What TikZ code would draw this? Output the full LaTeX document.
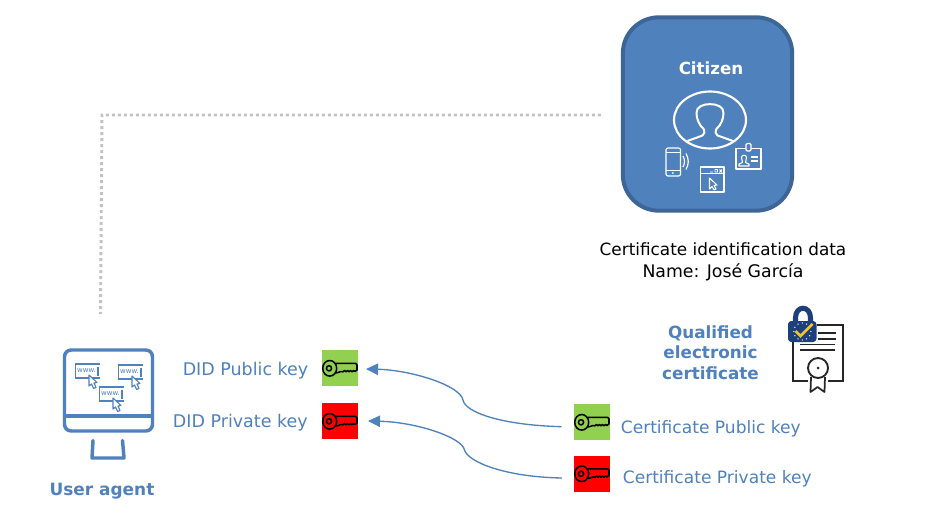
\documentclass[tikz,border=0pt]{standalone}
\usepackage{fontspec}
\setmainfont{DejaVu Sans}
\usetikzlibrary{arrows.meta}
\definecolor{blu}{HTML}{4F81BD}
\definecolor{dblu}{HTML}{3D6696}
\definecolor{grn}{HTML}{92D050}
\definecolor{navy}{HTML}{1D3F7C}
\definecolor{gold}{HTML}{F2C230}
\tikzset{
  x=0.75pt,y=-0.75pt,
  lbl/.style={text=blu,inner sep=0pt},
  blbl/.style={font=\fontsize{12.6}{15.4}\selectfont\bfseries,text=blu,inner sep=0pt,align=center},
  blk/.style={font=\fontsize{12.65}{15.8}\selectfont,text=black,inner sep=0pt,align=center},
  keybox/.style={minimum width=27pt,minimum height=27pt,inner sep=0pt,outer sep=0pt},
  flow/.style={draw=blu,line width=1pt,-{Triangle[length=9pt,width=8.5pt]}},
  wht/.style={draw=white,line width=0.9pt,line join=round},
  ico/.style={draw=blu,line width=2.6pt,line join=round,line cap=round},
  thin ico/.style={draw=blu,line width=0.85pt},
  keyglyph/.pic={
    \draw[black,line width=1.15pt,line join=round]
      (7.7,18.3) circle[x radius=7,y radius=7.8]
      (7,18.3) circle[radius=2.6]
      (14,13.3) -- (33.5,13.3) -- (35,14.8) -- (35,20) -- (33,21.5)
      -- (31.5,20.5) -- (30,21.8) -- (28.5,20.5) -- (27,21.8) -- (25.5,20.5)
      -- (24,21.8) -- (22.5,20.5) -- (21,21.8) -- (19,21.5) -- (16,22.5) -- (14,23);
  },
  wwwbox/.pic={
    \draw[thin ico] (24,0) -- (0,0) -- (0,14) -- (24,14) (22.5,3) -- (22.5,12);
    \node[inner sep=0pt,text=blu,font=\fontsize{5.2}{6}\selectfont] at (11,7) {www.};
    \draw[draw=blu,fill=white,line width=0.85pt,line join=round]
      (13.5,11) -- (13.5,22) -- (16,20) -- (18.2,24.5) -- (20.5,23.4) -- (18.5,19) -- (21.5,18.5) -- cycle;
  },
}
\begin{document}
\begin{tikzpicture}
\useasboundingbox[fill=white] (0,0) rectangle (950,524);

% Citizen
\node[draw=dblu,fill=blu,line width=3pt,rounded corners=27pt,minimum width=127pt,minimum height=145pt,inner sep=0pt,outer sep=0pt] (citizen) at (707.5,114) {};
\node[font=\fontsize{12.5}{14}\selectfont\bfseries,text=white,inner sep=0pt] (citizenlbl) at (711,68.5) {Citizen};
\draw[wht,line width=1.6pt] (710,120) circle[x radius=36,y radius=28.5];
\draw[wht,line width=1.5pt] (687.5,141) -- (702.5,135.5) .. controls (705,134) and (704.5,131.5) .. (704,129.5)
  .. controls (699,125) and (696.5,119) .. (696.5,113) .. controls (696.5,107) and (702,104.2) .. (710,104.2)
  .. controls (718,104.2) and (723.5,107) .. (723.5,113) .. controls (723.5,119) and (721,125) .. (716,129.5)
  .. controls (715.5,131.5) and (715,134) .. (717.5,135.5) -- (733,141);
% phone
\draw[wht,rounded corners=1.5pt] (666,148) rectangle (680.5,176);
\draw[wht,line width=0.7pt] (666,152.5) -- (680.5,152.5) (666,170) -- (680.5,170);
\fill[white] (672.8,173) circle[radius=1];
\draw[wht] (683,156) .. controls (685,160) and (685,163) .. (683,167);
\draw[wht] (686,153.5) .. controls (689,159) and (689,164) .. (686,169.5);
% window
\draw[wht] (700.5,167) rectangle (724,192) (700.5,173.5) -- (724,173.5);
\draw[wht,line width=0.7pt] (710,172) -- (713,172) (715,169.5) rectangle (717.5,172) (719.5,169.5) -- (722,172.5) (722,169.5) -- (719.5,172.5);
\draw[wht,line width=0.8pt] (709.5,178) -- (709.5,189) -- (712,186.5) -- (714,190) -- (716,189) -- (714,185.5) -- (717,185) -- cycle;
% badge
\draw[wht] (736,148.5) rectangle (761,169);
\draw[draw=white,fill=blu,line width=0.9pt,rounded corners=1pt] (746,143.5) rectangle (751,151);
\draw[wht,line width=0.8pt] (739,166) -- (739,164) -- (742.5,162.5) -- (741.5,157.5) .. controls (741.5,154.5) and (746.5,154.5) .. (746.5,157.5) -- (745.5,162.5) -- (749,164) -- (749,166) -- cycle;
\draw[wht,line width=0.8pt] (751,157) -- (758,157) (751,161) -- (758,161);

% Certificate data
\node[blk] (certdata) at (723,261.5) {Certificate identification data\\[0.6pt]{\fontsize{13}{15.8}\selectfont Name: José García}};

% Qualified
\node[blbl] (qual) at (710.5,352.5) {Qualified\\electronic\\certificate};
% document
\node[minimum width=37.5pt,minimum height=42pt,inner sep=0pt,outer sep=0pt] (doc) at (818,353) {};
\draw[black!85,line width=1.3pt] (808,381) -- (793,381) -- (793,340) (817,325) -- (843,325) -- (843,381) -- (828,381);
\draw[black!85,line width=1.3pt] (818,333) -- (836,333) (818,339) -- (836,339) (800,344.5) -- (835,344.5) (800,350) -- (835,350);
\draw[black!85,line width=1.4pt] (818,368) circle[radius=10];
\fill[black!85] (818,368) circle[radius=1.5];
\draw[black!85,line width=1.3pt,line join=round] (811,377) -- (810.5,392) -- (817.5,387) -- (824.5,392) -- (825,377);
% lock
\draw[navy,line width=3.8pt] (795.5,324) -- (795.5,318) .. controls (795.5,305) and (810.5,305) .. (810.5,318) -- (810.5,324);
\fill[navy,rounded corners=2.5pt] (788,321) rectangle (816.5,342);
\foreach \a in {0,30,...,330}{\fill[white!70!gold] (802.3,331.5) ++(\a:8.5) circle[radius=0.7];}
\draw[gold,line width=2pt] (795.5,331) -- (800.5,336) -- (812.5,324);

% User agent monitor
\draw[ico,rounded corners=5pt] (64.5,350) rectangle (152.5,431);
\draw[ico] (64.5,416) -- (152.5,416);
\node[inner sep=0pt,outer sep=0pt,minimum width=66pt,minimum height=61pt] (monitor) at (108.5,390.5) {};
\draw[ico,line join=round] (93,440.5) -- (92,458) -- (124,458) -- (122.5,440.5);
\pic at (75.5,364) {wwwbox};
\pic at (118.5,365) {wwwbox};
\pic at (99.5,387) {wwwbox};
\node[font=\fontsize{12.7}{14}\selectfont\bfseries,text=blu,inner sep=0pt] (ua) at (102,491.5) {User agent};

% Keys
\node[keybox,fill=grn] (kgl) at (340,368) {};
\node[keybox,fill=red] (krl) at (340,421) {};
\node[keybox,fill=grn] (kgr) at (592,422) {};
\node[keybox,fill=red] (krr) at (592,473.5) {};
\pic at (322,350) {keyglyph};
\pic at (322,403) {keyglyph};
\pic at (574,404) {keyglyph};
\pic at (574,455.5) {keyglyph};

% Labels
\node[lbl,font=\fontsize{13.1}{15}\selectfont] (lgl) at (245.5,371) {DID Public key};
\node[lbl,font=\fontsize{13.1}{15}\selectfont] (lrl) at (240.3,423) {DID Private key};
\node[lbl,font=\fontsize{12.8}{15}\selectfont] (lgr) at (710.8,428.5) {Certificate Public key};
\node[lbl,font=\fontsize{12.8}{15}\selectfont] (lrr) at (717.3,479) {Certificate Private key};

% Connectors
\draw[flow] ([shift={(-12.5,4.7)}]kgr.west) .. controls (500,425) and (465,412) .. (463,400)
  .. controls (460,385) and (410,370) .. ([shift={(8,1)}]kgl.east);
\draw[flow] ([shift={(-12,4.5)}]krr.west) .. controls (505,477) and (468,462) .. (464.5,450)
  .. controls (462,437) and (415,422) .. ([shift={(10,0)}]krl.east);
\draw[draw=black!24,line width=2.2pt,dash pattern=on 2.2pt off 2.3pt] ([shift={(-22,1)}]citizen.west) -- (102,115) -- (100.5,314);
\end{tikzpicture}
\end{document}
